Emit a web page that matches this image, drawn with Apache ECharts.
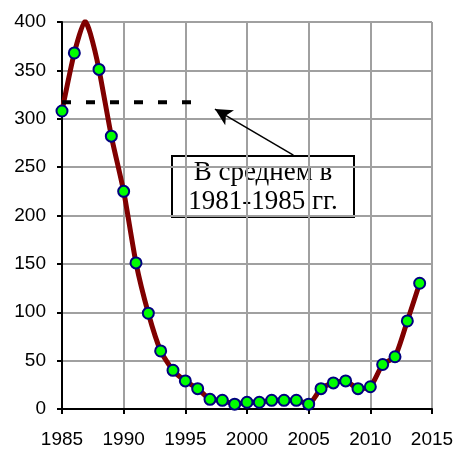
<!DOCTYPE html>
<html><head><meta charset="utf-8">
<script src="https://cdn.jsdelivr.net/npm/echarts@6/dist/echarts.min.js"></script>
<style>html,body{margin:0;padding:0;background:#fff}#c{width:457px;height:449px}</style>
</head><body><div id="c"></div>
<script>
// yearly observed values (markers)
const markerYears  = [1985,1986,1988,1989,1990,1991,1992,1993,1994,1995,1996,1997,1998,1999,2000,2001,2002,2003,2004,2005,2006,2007,2008,2009,2010,2011,2012,2013,2014];
const markerValues = [308, 368, 351, 282, 225, 151, 99,  60,  40,  29,  21,  10,  9,   5,   7,   7,   9,   9,   9,   5,   21,  27,  29,  21,  23,  46,  54,  91,  130];
// line points (includes the unmarked 1987 peak)
const lineYears  = [1985,1986,1986.87,1987.3,1988,1989,1990,1991,1992,1993,1994,1995,1996,1997,1998,1999,2000,2001,2002,2003,2004,2005,2006,2007,2008,2009,2010,2011,2012,2013,2014];
const lineValues = [308, 368, 401,    388,   351, 282, 225, 151, 99,  60,  40,  29,  21,  10,  9,   5,   7,   7,   9,   9,   9,   5,   21,  27,  29,  21,  23,  46,  54,  91,  130];
// 1981-1985 average
const avgYears  = [1985, 1995.5];
const avgValues = [317, 317];
const arrowFrom = [2003.76, 262.5];
const arrowTo   = [1997.4, 310];
const xTicks = {min:1985, max:2015, step:5};
const yTicks = {min:0, max:400, step:50};
const noteLines = ['В среднем в', '1981-1985 гг.'];

const chart = echarts.init(document.getElementById('c'), null, {renderer:'canvas'});
const zip = (a,b) => a.map((v,i)=>[v,b[i]]);
const axisFont = {fontFamily:'Liberation Sans, Arial, sans-serif', fontSize:19, color:'#000'};
chart.setOption({
  animation:false,
  grid:{left:62, right:25, top:22, bottom:40, containLabel:false},
  xAxis:{type:'value', min:xTicks.min, max:xTicks.max, interval:xTicks.step,
    axisLine:{show:true, onZero:false, lineStyle:{color:'#000', width:2}},
    axisTick:{show:true, length:5, lineStyle:{color:'#000', width:2}},
    axisLabel:Object.assign({margin:21, formatter:v=>String(v)}, axisFont),
    splitLine:{show:true, lineStyle:{color:'#a0a0a0', width:2}}},
  yAxis:{type:'value', min:yTicks.min, max:yTicks.max, interval:yTicks.step,
    axisLine:{show:true, lineStyle:{color:'#000', width:2}},
    axisTick:{show:true, length:5, lineStyle:{color:'#000', width:2}},
    axisLabel:Object.assign({margin:16, formatter:v=>String(v)}, axisFont),
    splitLine:{show:true, lineStyle:{color:'#a0a0a0', width:2}}},
  series:[
    {type:'line', data:zip(lineYears,lineValues), smooth:0.2, showSymbol:false, symbol:'none',
     lineStyle:{color:'#800000', width:5, cap:'round', join:'round'}, z:2,
     markLine:{silent:true, symbol:'none', animation:false,
       lineStyle:{color:'#000', width:1.5, type:'solid'}, label:{show:false},
       data:[[{coord:arrowFrom, symbol:'none'},{coord:arrowTo, symbol:'arrow', symbolSize:[13,17]}]]}},
    {type:'line', data:zip(avgYears,avgValues), symbol:'none',
     lineStyle:{color:'#000', width:4, type:[9,15]}, z:3},
    {type:'scatter', data:zip(markerYears,markerValues), symbol:'circle', symbolSize:11,
     itemStyle:{color:'#00ff00', borderColor:'#000080', borderWidth:2, opacity:1}, z:4}
  ],
  graphic:[{type:'group', left:171, top:155, z:10, children:[
    {type:'rect', shape:{x:0,y:0,width:182,height:61}, style:{fill:'#fff', stroke:'#000', lineWidth:2}},
    {type:'text', x:91, y:17, style:{text:noteLines[0], font:'27px "Liberation Serif", "Times New Roman", serif', fill:'#000', align:'center', verticalAlign:'middle'}},
    {type:'text', x:91, y:46, style:{text:noteLines[1], font:'27px "Liberation Serif", "Times New Roman", serif', fill:'#000', align:'center', verticalAlign:'middle'}}
  ]}]
});
</script></body></html>
